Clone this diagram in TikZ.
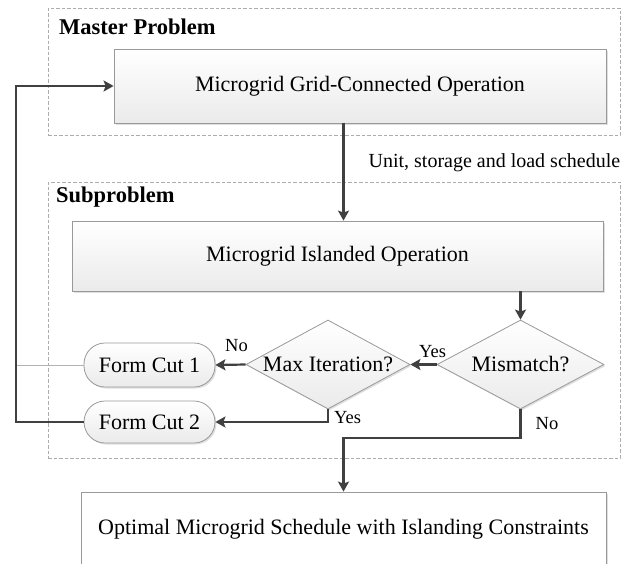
\documentclass[tikz,border=0pt]{standalone}
\usepackage{fontspec}
\setmainfont{Liberation Serif}
\usetikzlibrary{arrows.meta,shapes,positioning,shadows}
\tikzstyle{every node}=[inner sep=0pt]
\tikzset{
    block/.style={
                draw=gray!80,
                line width=0.8pt,
                top color=white,
                bottom color=gray!16,
                drop shadow={shadow xshift=1.5pt,shadow yshift=-1.5pt,opacity=0.25},
                text centered,
                font=\fontsize{22}{25}\selectfont
            },
        decision/.style={
                block,
                diamond,
                aspect=1.85,
                inner sep=-2pt
            },
        cutbox/.style={
                block,
                rounded corners=21pt,
                minimum width=131pt
            },
        panel/.style={
                draw=gray!65,
                line width=0.8pt,
                dash pattern=on 3.5pt off 2pt
            },
        heading/.style={
                anchor=west,
                font=\bfseries\fontsize{22.5}{25}\selectfont
            },
        flow/.style={
                draw=black!75,
                line width=2.2pt,
                -{Stealth[length=10pt,width=11pt,inset=2pt]}
            },
        answer/.style={
                font=\fontsize{18.5}{21}\selectfont
            },
}

\begin{document}
\begin{tikzpicture}[x=1pt,y=-1pt]
  \useasboundingbox (0,0) rectangle (626,563);
  \clip (0,0) rectangle (626,563);
  % Panels
  \node[panel,minimum width=572pt,minimum height=127pt] (masterpanel) at (334,71.5) {};
  \node[panel,minimum width=572pt,minimum height=276pt] (subpanel) at (334,320) {};
  \node[heading] (mastertitle) at (59,27) {Master Problem};
  \node[heading] (subtitle) at (56,197) {Subproblem};
  % Blocks
  \node[block,minimum width=492pt,minimum height=74pt] (grid) at (360,86) {Microgrid Grid-Connected Operation};
  \node[block,minimum width=531pt,minimum height=70pt] (island) at (337.5,256) {Microgrid Islanded Operation};
  \node[decision,minimum width=167pt,minimum height=89pt] (mismatch) at (520.5,364.5) {Mismatch?};
  \node[decision,minimum width=164pt,minimum height=89pt] (maxiter) at (328,364.5) {Max Iteration?};
  \node[cutbox,minimum height=44pt] (cutone) at (149.5,365) {Form Cut 1};
  \node[cutbox,minimum height=42pt] (cuttwo) at (149.5,422) {Form Cut 2};
  \node[block,top color=white,bottom color=white,minimum width=525pt,minimum height=74pt] (optimal) at (343.5,529) {Optimal Microgrid Schedule with Islanding Constraints};
  \coordinate (back) at (16,86);
  \coordinate (nobend) at (520.5,438);
  % Connectors
  \draw[flow] (grid.south -| optimal.north) -- (island.north -| optimal.north)
    node[pos=0.4,right=24pt,font=\fontsize{20}{22}\selectfont] (schedule) {Unit, storage and load schedule};
  \draw[flow] (island.south -| mismatch.north) -- (mismatch.north);
  \draw[flow] (mismatch.west) -- (maxiter.east) node[answer,pos=0.15,above=6pt] (yesone) {Yes};
  \draw[flow] (maxiter.west) -- (cutone.east) node[answer,pos=0.3,above=12pt] (noone) {No};
  \draw[flow] (maxiter.south) |- (cuttwo.east);
  \node[answer,anchor=west] (yestwo) at (334,418) {Yes};
  \draw[flow] (mismatch.south) -- (nobend) -| (optimal.north);
  \node[answer] (notwo) at (547,424) {No};
  \draw[gray!60,line width=0.8pt] (cutone.west) -- (cutone.west -| back);
  \draw[flow] (cuttwo.west) -| (back) -- (grid.west);
\end{tikzpicture}
\end{document}
